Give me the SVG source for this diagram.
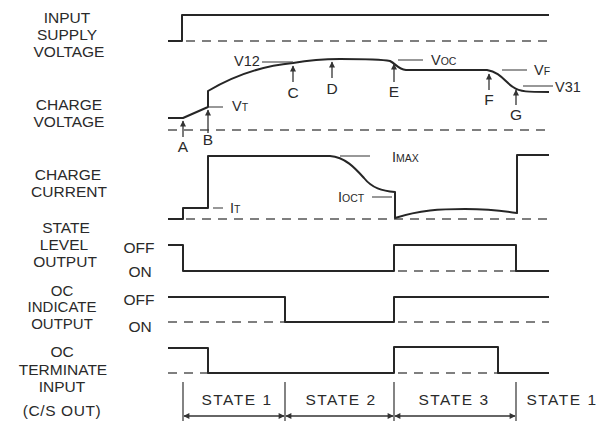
<svg xmlns="http://www.w3.org/2000/svg" width="596" height="422" viewBox="0 0 596 422">
<defs>
<style>
.lbl{font-family:"Liberation Sans",Arial,sans-serif;font-size:15.5px;fill:#2a2a2a;text-anchor:middle}
.lb2{font-family:"Liberation Sans",Arial,sans-serif;font-size:15px;fill:#2a2a2a;text-anchor:middle}
.sm{font-family:"Liberation Sans",Arial,sans-serif;font-size:14.5px;fill:#2a2a2a}
.sub{font-size:10.5px}
.st{font-family:"Liberation Sans",Arial,sans-serif;font-size:15.5px;fill:#2a2a2a;text-anchor:middle;letter-spacing:1.5px}
.tr{fill:none;stroke:#262626;stroke-width:2;stroke-linejoin:round}
.da{fill:none;stroke:#555;stroke-width:1.6;stroke-dasharray:9 7}
.th{fill:none;stroke:#333;stroke-width:1.2}
.ar{fill:none;stroke:#333;stroke-width:1.3}
</style>
<marker id="ah" viewBox="0 0 10 10" refX="9" refY="5" markerUnits="userSpaceOnUse" markerWidth="7" markerHeight="6" orient="auto-start-reverse">
<path d="M0,0 L10,5 L0,10 Z" fill="#333"/>
</marker>
</defs>
<rect width="596" height="422" fill="#fff"/>

<g id="labels">
<text class="lbl" x="67" y="23">INPUT</text>
<text class="lbl" x="67" y="40">SUPPLY</text>
<text class="lbl" x="69" y="57">VOLTAGE</text>
<text class="lbl" x="69" y="110">CHARGE</text>
<text class="lbl" x="69" y="127">VOLTAGE</text>
<text class="lbl" x="68" y="180">CHARGE</text>
<text class="lbl" x="69" y="197">CURRENT</text>
<text class="lbl" x="66" y="233">STATE</text>
<text class="lbl" x="64" y="250">LEVEL</text>
<text class="lbl" x="65" y="267">OUTPUT</text>
<text class="lb2" x="62" y="296">OC</text>
<text class="lb2" x="62" y="312">INDICATE</text>
<text class="lb2" x="62" y="328.5">OUTPUT</text>
<text class="lbl" x="62" y="357">OC</text>
<text class="lbl" x="63" y="375">TERMINATE</text>
<text class="lbl" x="62" y="392">INPUT</text>
<text class="lbl" x="62" y="416" style="letter-spacing:0.6px">(C/S OUT)</text>
<text class="lbl" x="139" y="253">OFF</text>
<text class="lbl" x="140" y="277">ON</text>
<text class="lbl" x="139" y="305">OFF</text>
<text class="lbl" x="140" y="332">ON</text>
</g>

<g id="input-supply-voltage">
<path class="tr" d="M168,41 H182 V15 H549"/>
<path class="da" d="M186,41 H549"/>
</g>

<g id="charge-voltage">
<path class="da" d="M168,130 H549"/>
<path class="tr" d="M168,118 H183 L208,107 V91 C230,78 260,66 293,63 C310,60 325,59 340,59 C360,59 380,59 390,61 C396,64 398,69 406,70 H487 C500,72 505,82 513,87 C520,92 528,92 549,92"/>
<path class="th" d="M262,62 H293 M209,107 H223 M398,60 H423 M502,70 H527 M523,86 H553"/>
<text class="sm" x="234" y="66">V12</text>
<text class="sm" x="232" y="111">V<tspan class="sub">T</tspan></text>
<text class="sm" x="431" y="65">V<tspan class="sub">OC</tspan></text>
<text class="sm" x="534" y="75">V<tspan class="sub">F</tspan></text>
<text class="sm" x="555" y="92">V31</text>
</g>

<g id="markers">
<path class="ar" d="M183,137 V121" marker-end="url(#ah)"/>
<path class="ar" d="M208,133 V110" marker-end="url(#ah)"/>
<path class="ar" d="M293,82 V66" marker-end="url(#ah)"/>
<path class="ar" d="M332,78 V62" marker-end="url(#ah)"/>
<path class="ar" d="M394,82 V64" marker-end="url(#ah)"/>
<path class="ar" d="M489,90 V74" marker-end="url(#ah)"/>
<path class="ar" d="M516,105 V90" marker-end="url(#ah)"/>
<text class="lbl" x="183" y="152">A</text>
<text class="lbl" x="208" y="145">B</text>
<text class="lbl" x="293" y="98">C</text>
<text class="lbl" x="332" y="94">D</text>
<text class="lbl" x="394" y="97">E</text>
<text class="lbl" x="489" y="105">F</text>
<text class="lbl" x="516" y="120">G</text>
</g>

<g id="charge-current">
<path class="da" d="M186,219 H549"/>
<path class="tr" d="M168,219 H183 V208 H208 V156 H330 C345,157 355,168 364,178 C372,188 382,191 395,192 V218 C420,210 440,209 465,209 C490,209 505,211 517,213 V155 H549"/>
<path class="th" d="M340,156 H370 M372,197 H392 M213,208 H223"/>
<text class="sm" x="392" y="162">I<tspan class="sub">MAX</tspan></text>
<text class="sm" x="338" y="202">I<tspan class="sub">OCT</tspan></text>
<text class="sm" x="230" y="213">I<tspan class="sub">T</tspan></text>
</g>

<g id="state-level-output">
<path class="da" d="M398,271 H516"/>
<path class="tr" d="M168,245 H183 V271 H394 V245 H516 V271 H549"/>
</g>

<g id="oc-indicate-output">
<path class="da" d="M168,322 H285 M398,322 H549"/>
<path class="tr" d="M168,297 H285 V322 H394 V297 H549"/>
</g>

<g id="oc-terminate-input">
<path class="da" d="M168,373 H208 M398,373 H498"/>
<path class="tr" d="M168,348 H208 V373 H394 V347 H498 V373 H549"/>
</g>

<g id="states">
<path class="th" d="M183,382 V421 M285,382 V421 M394,382 V421 M516,382 V421"/>
<path class="ar" d="M184,416 H284" marker-start="url(#ah)" marker-end="url(#ah)"/>
<path class="ar" d="M286,416 H393" marker-start="url(#ah)" marker-end="url(#ah)"/>
<path class="ar" d="M395,416 H515" marker-start="url(#ah)" marker-end="url(#ah)"/>
<text class="st" x="237" y="405">STATE 1</text>
<text class="st" x="341" y="405">STATE 2</text>
<text class="st" x="454" y="405">STATE 3</text>
<text class="st" x="562" y="405">STATE 1</text>
</g>
</svg>
